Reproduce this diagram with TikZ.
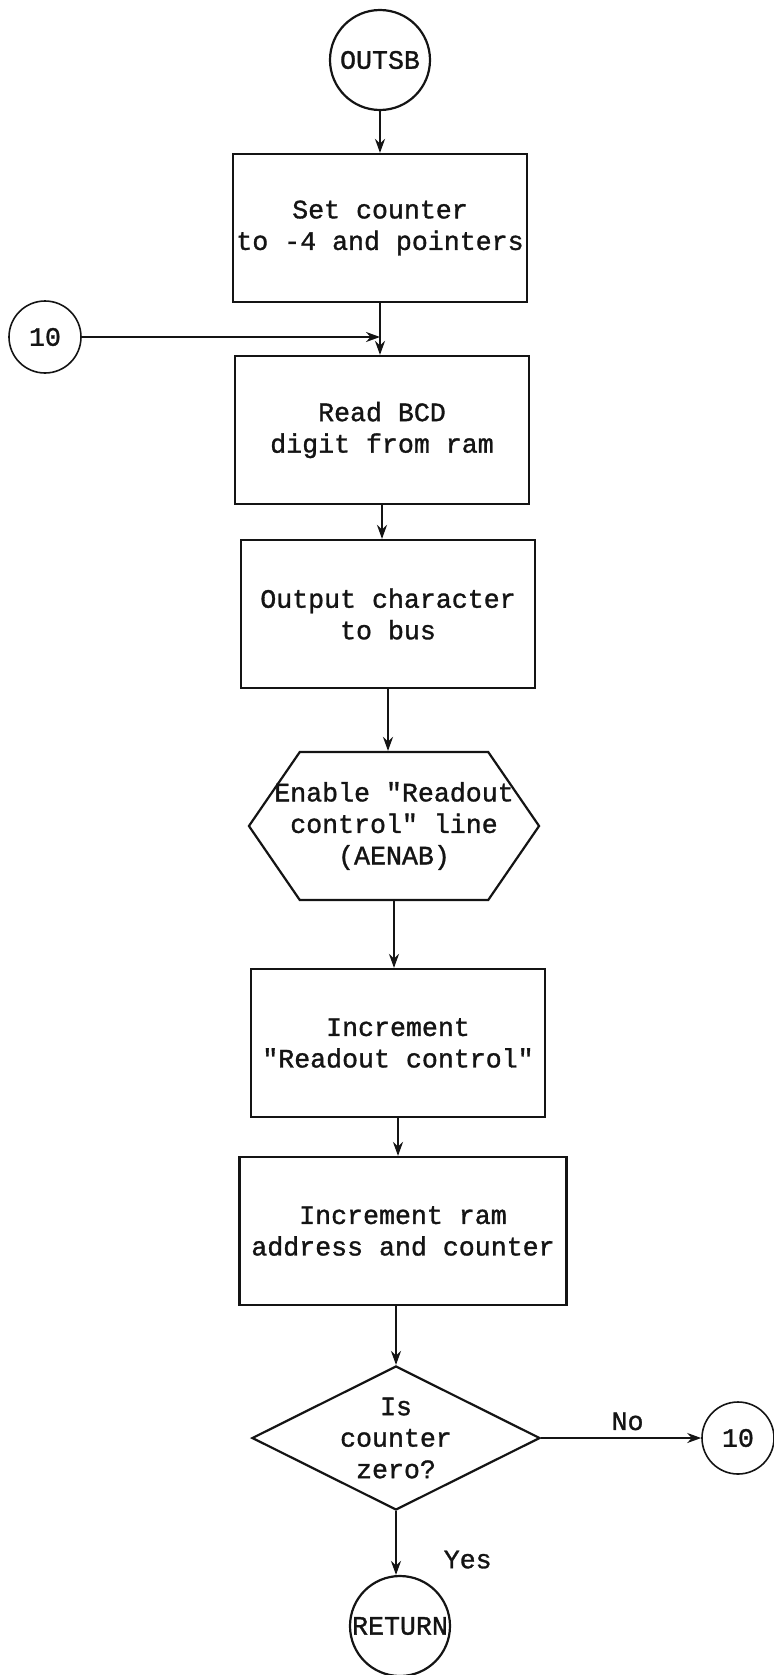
\documentclass[tikz,border=0pt]{standalone}
\usepackage{fontspec}
\newfontfamily\typewriter[FakeBold=1.2]{Liberation Mono}
\usepackage{tikz}
\usetikzlibrary{shapes.geometric, shapes.symbols, arrows.meta, positioning}
\definecolor{ink}{RGB}{20,20,20}
\newcommand{\flowfont}{\typewriter\fontsize{13.3pt}{15.75pt}\selectfont}
\tikzset{
  stepbox/.style   = {rectangle, draw=ink, line width=1.1pt, text=ink,
                      minimum width=#1, minimum height=74pt, inner xsep=1pt,
                      align=center, font=\flowfont},
  stepbox/.default = 147pt,
  io/.style        = {signal, signal to=west and east, signal pointer angle=111,
                      draw=ink, line width=1.1pt, text=ink, minimum height=74pt,
                      inner xsep=-12.75pt, align=center, font=\flowfont},
  decision/.style  = {diamond, aspect=2, draw=ink, line width=1.1pt, text=ink,
                      minimum width=144pt, minimum height=72pt, inner sep=0pt,
                      align=center, font=\flowfont},
  terminal/.style  = {circle, draw=ink, line width=1.1pt, text=ink,
                      minimum size=50pt, inner sep=0pt, font=\flowfont},
  connector/.style = {circle, draw=ink, line width=0.8pt, text=ink,
                      minimum size=36pt, inner sep=0pt, font=\flowfont},
  arrow/.style     = {-{Stealth[length=7pt, width=5pt]}, line width=1.1pt, draw=ink},
  tag/.style       = {font=\flowfont, text=ink},
}

\begin{document}
\begin{tikzpicture}[x=50pt, y=-50pt]
  \useasboundingbox (0, 0) rectangle (7.73, 16.75);

  \node[terminal]  (outsb)   at (3.80, 0.60)  {OUTSB};
  \node[stepbox]   (setctr)  at (3.80, 2.28)  {Set counter\\to -4 and pointers};
  \node[connector] (tenin)   at (0.45, 3.37)  {10};
  \node[stepbox]   (readbcd) at (3.82, 4.30)  {Read BCD\\digit from ram};
  \node[stepbox]   (outchar) at (3.88, 6.14)  {Output character\\to bus};
  \node[io]        (enable)  at (3.94, 8.26)  {Enable "Readout\\control" line\\(AENAB)};
  \node[stepbox]   (incctl)  at (3.98, 10.43) {Increment\\"Readout control"};
  \node[stepbox=163.5pt] (incram) at (4.03, 12.31) {Increment ram\\address and counter};
  \node[decision]  (iszero)  at (3.96, 14.38) {Is\\counter\\zero?};
  \node[connector] (tenout)  at (7.38, 14.38) {10};
  \node[terminal]  (ret)     at (4.00, 16.26) {RETURN};

  \draw[arrow] (outsb.south) -- (setctr.north);
  \draw[arrow] (setctr.south) -- (setctr.south |- readbcd.north);
  \draw[arrow] (tenin.east) -- (tenin.east -| setctr.south);
  \draw[arrow] (readbcd.south) -- (readbcd.south |- outchar.north);
  \draw[arrow] (outchar.south) -- (outchar.south |- enable.north);
  \draw[arrow] (enable.south) -- (enable.south |- incctl.north);
  \draw[arrow] (incctl.south) -- (incctl.south |- incram.north);
  \draw[arrow] (iszero.north |- incram.south) -- (iszero.north);
  \draw[arrow] (iszero.east) -- node[tag, above, pos=0.54] (no) {No}
    (tenout.west);
  \draw[arrow] (iszero.south) -- node[tag, right=20pt, pos=0.76] (yes) {Yes}
    (iszero.south |- ret.north);
\end{tikzpicture}
\end{document}
